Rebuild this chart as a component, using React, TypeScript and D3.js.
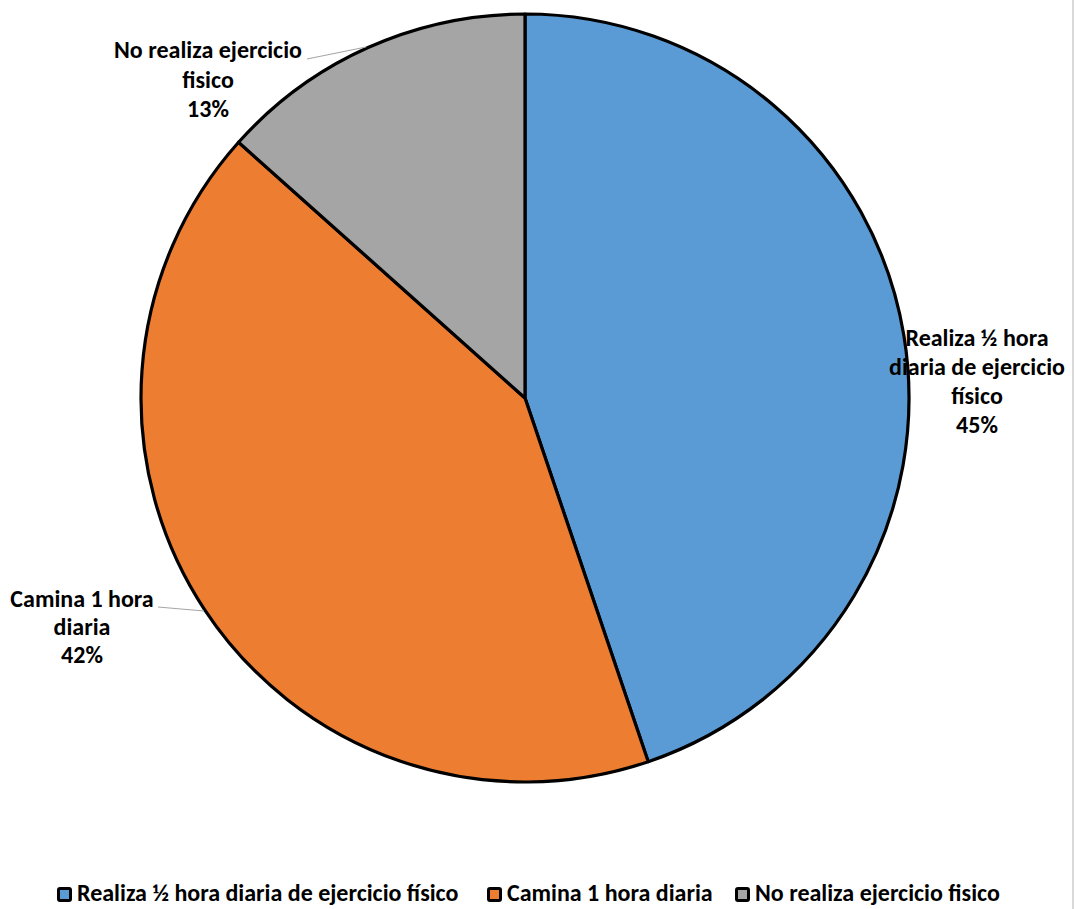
import React from "react";
import * as d3 from "d3";

// Share of respondents by physical-activity habit (percent)
const categories = [
  "Realiza ½ hora diaria de ejercicio físico",
  "Camina 1 hora diaria",
  "No realiza ejercicio fisico",
];
const values = [44.8, 41.8, 13.4];
const colors = ["#5B9BD5", "#ED7D31", "#A5A5A5"];

// Wrapped lines for the data labels on the slices
const labelLines = [
  ["Realiza ½ hora", "diaria de ejercicio", "físico"],
  ["Camina 1 hora", "diaria"],
  ["No realiza ejercicio", "fisico"],
];

const W = 1076;
const H = 909;
const cx = 525;
const cy = 398;
const R = 384;
const FONT = "Carlito, Calibri, Lato, 'Open Sans', sans-serif";
const FS = 24;

// Label placement: block centre x, first baseline, line step, optional leader line
const labelLayout = [
  { x: 977, y: 346, step: 29, leader: null as null | [number, number, number, number] },
  { x: 82, y: 607, step: 28, leader: [158, 607, 204, 611] as [number, number, number, number] },
  { x: 208, y: 58, step: 29.5, leader: [307, 59, 366, 47] as [number, number, number, number] },
];

export default function App() {
  const pie = d3
    .pie<number>()
    .sort(null)
    .value((d) => d);
  const arcs = pie(values);
  const arc = d3.arc<d3.PieArcDatum<number>>().innerRadius(0).outerRadius(R);
  const total = d3.sum(values);

  const legendX = [57, 487, 735];

  return (
    <svg
      width={W}
      height={H}
      style={{ position: "absolute", left: 0, top: 0, background: "#fff" }}
      fontFamily={FONT}
    >
      <line x1={1073} y1={0} x2={1073} y2={H} stroke="#d9d9d9" strokeWidth={2} />
      <g transform={`translate(${cx},${cy})`}>
        {arcs.map((a, i) => (
          <path
            key={i}
            d={arc(a) || ""}
            fill={colors[i]}
            stroke="#000"
            strokeWidth={3.2}
            strokeLinejoin="round"
          />
        ))}
      </g>
      {labelLayout.map((l, i) => (
        <g key={i}>
          {l.leader && (
            <polyline
              points={`${l.leader[0]},${l.leader[1]} ${l.leader[2]},${l.leader[3]}`}
              fill="none"
              stroke="#a6a6a6"
              strokeWidth={1.2}
            />
          )}
          <text textAnchor="middle" fontSize={FS} fontWeight="bold" fill="#000">
            {labelLines[i].map((t, j) => (
              <tspan key={j} x={l.x} y={l.y + j * l.step}>
                {t}
              </tspan>
            ))}
            <tspan x={l.x} y={l.y + labelLines[i].length * l.step}>
              {`${d3.format(".0f")((values[i] / total) * 100)}%`}
            </tspan>
          </text>
        </g>
      ))}
      {categories.map((c, i) => (
        <g key={c} transform={`translate(${legendX[i]},887)`}>
          <rect x={1.5} y={1.5} width={12} height={12} fill={colors[i]} stroke="#000" strokeWidth={3} rx={1.5} />
          <text x={20} y={14} fontSize={FS} fontWeight="bold" fill="#000">
            {c}
          </text>
        </g>
      ))}
    </svg>
  );
}
